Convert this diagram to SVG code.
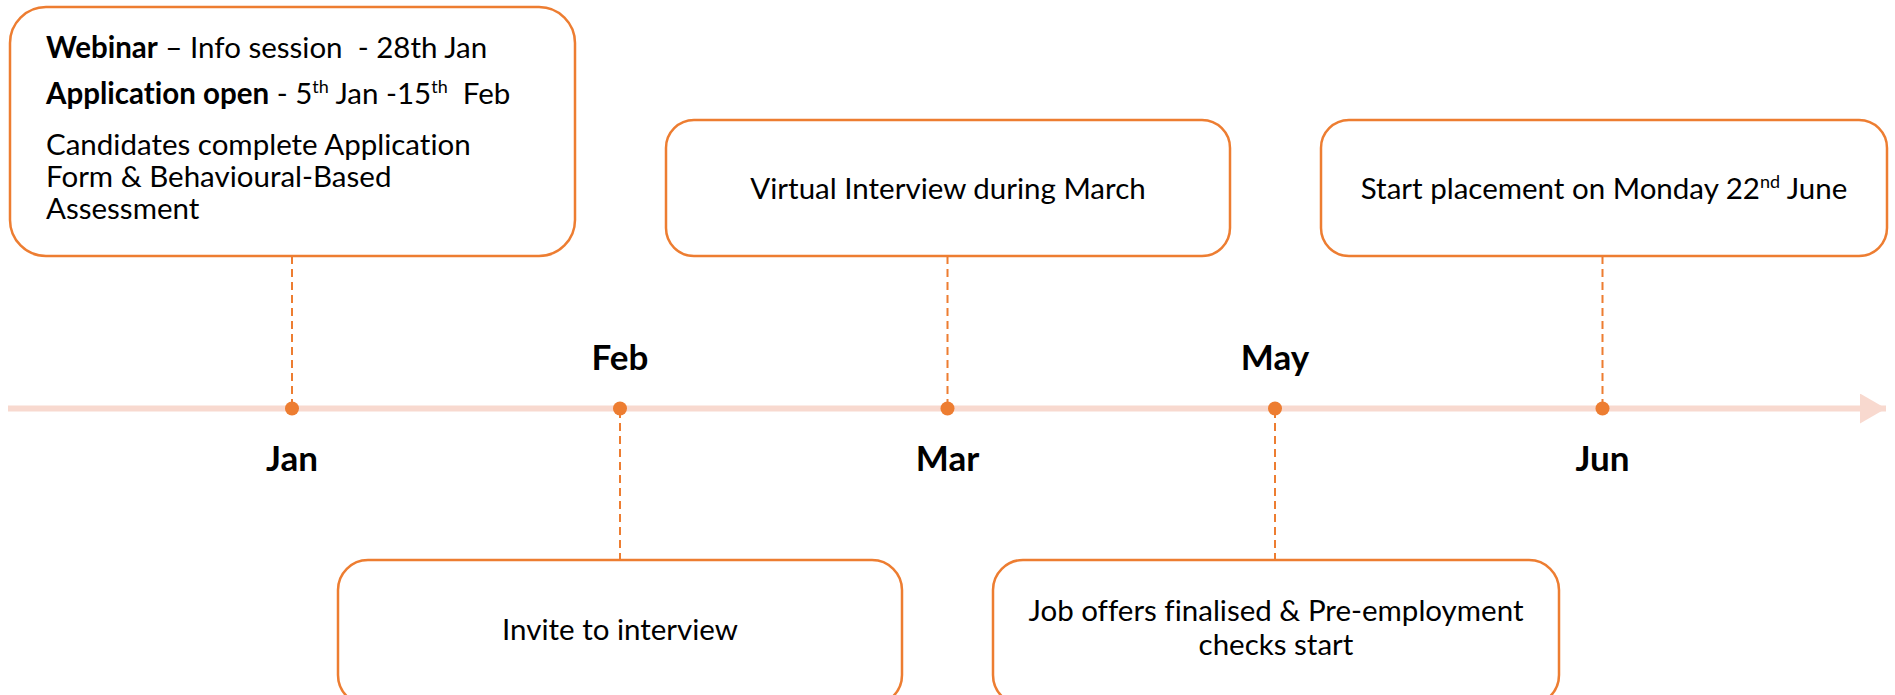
<svg xmlns="http://www.w3.org/2000/svg" width="1895" height="695" viewBox="0 0 1895 695">
<style>
.box{fill:#fff;stroke:#ED7D31;stroke-width:2.5}
.t{font-family:Lato,"Liberation Sans",sans-serif;font-size:29.5px;fill:#000;white-space:pre;font-variant-ligatures:none}
.b{font-weight:bold}
.m{font-family:Lato,"Liberation Sans",sans-serif;font-size:35px;font-weight:bold;fill:#000;text-anchor:middle}
.c{text-anchor:middle}
.dash{stroke:#ED7D31;stroke-width:2;stroke-dasharray:8 5;fill:none}
.dot{fill:#ED7D31}
.sup{font-size:18px}
</style>
<defs>
<marker id="ah" markerWidth="26" markerHeight="30" refX="26" refY="15" orient="auto" markerUnits="userSpaceOnUse">
<path d="M0,0 L26,15 L0,30 Z" fill="#F8D9CF"/>
</marker>
</defs>
<g id="timeline">
<line x1="8" y1="408.5" x2="1886" y2="408.5" stroke="#F8D9CF" stroke-width="6" marker-end="url(#ah)"/>
</g>
<g id="connectors">
<line class="dash" x1="292" y1="256" x2="292" y2="406"/>
<line class="dash" x1="620" y1="410" x2="620" y2="560"/>
<line class="dash" x1="947.5" y1="256" x2="947.5" y2="406"/>
<line class="dash" x1="1275" y1="410" x2="1275" y2="560"/>
<line class="dash" x1="1602.5" y1="256" x2="1602.5" y2="406"/>
</g>
<g id="dots">
<circle class="dot" cx="292" cy="408.5" r="7"/>
<circle class="dot" cx="620" cy="408.5" r="7"/>
<circle class="dot" cx="947.5" cy="408.5" r="7"/>
<circle class="dot" cx="1275" cy="408.5" r="7"/>
<circle class="dot" cx="1602.5" cy="408.5" r="7"/>
</g>
<g id="months">
<text class="m" x="292" y="471">Jan</text>
<text class="m" x="620" y="370">Feb</text>
<text class="m" x="947.5" y="471">Mar</text>
<text class="m" x="1275" y="370">May</text>
<text class="m" x="1602.5" y="471">Jun</text>
</g>
<g id="node-webinar">
<rect class="box" x="10" y="7" width="565" height="249" rx="36"/>
<text class="t" x="46" y="58"><tspan class="b">Webinar</tspan> – Info session  - 28th Jan</text>
<text class="t" x="46" y="104"><tspan class="b">Application open</tspan> - 5<tspan class="sup" dy="-11">th</tspan><tspan dy="11"> Jan -15</tspan><tspan class="sup" dy="-11">th</tspan><tspan dy="11">  Feb</tspan></text>
<text class="t" x="46" y="155">Candidates complete Application</text>
<text class="t" x="46" y="187">Form &amp; Behavioural-Based</text>
<text class="t" x="46" y="219">Assessment</text>
</g>
<g id="node-invite">
<rect class="box" x="338" y="560" width="564" height="145" rx="30"/>
<text class="t c" x="620" y="640">Invite to interview</text>
</g>
<g id="node-virtual">
<rect class="box" x="666" y="120" width="564" height="136" rx="28"/>
<text class="t c" x="948" y="199">Virtual Interview during March</text>
</g>
<g id="node-offers">
<rect class="box" x="993" y="560" width="566" height="145" rx="30"/>
<text class="t c" x="1276" y="621">Job offers finalised &amp; Pre-employment</text>
<text class="t c" x="1276" y="655">checks start</text>
</g>
<g id="node-start">
<rect class="box" x="1321" y="120" width="566" height="136" rx="28"/>
<text class="t c" x="1604" y="199">Start placement on Monday 22<tspan class="sup" dy="-11">nd</tspan><tspan dy="11"> June</tspan></text>
</g>
</svg>
